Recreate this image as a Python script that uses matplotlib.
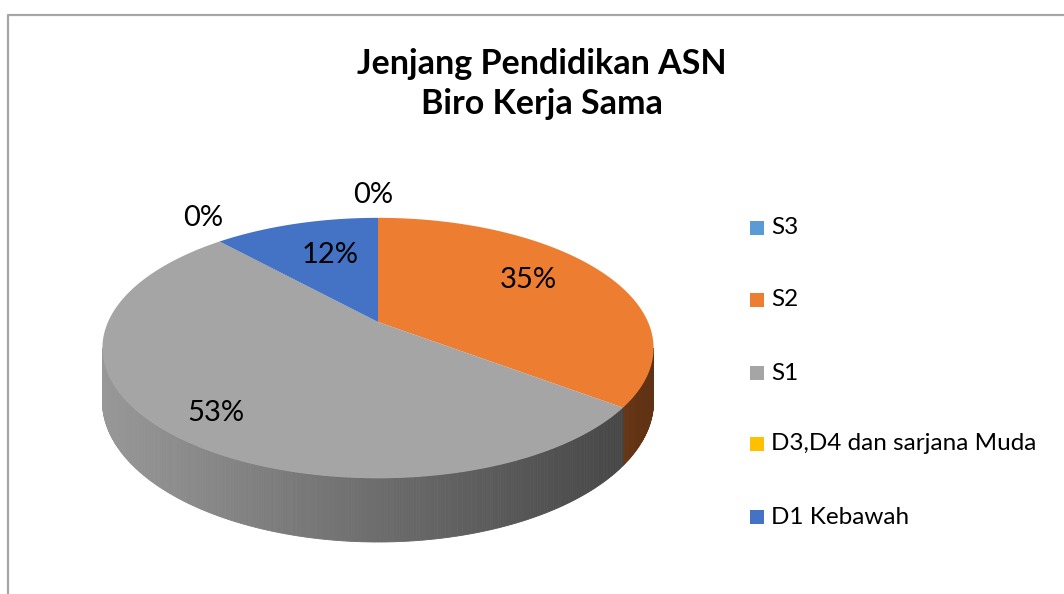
import numpy as np
import matplotlib
matplotlib.use("Agg")
import matplotlib.pyplot as plt
from matplotlib.patches import Polygon

# data (jumlah ASN per jenjang)
categories = ["S3", "S2", "S1", "D3,D4 dan sarjana Muda", "D1 Kebawah"]
values = [0, 6, 9, 0, 2]
colors = ["#5b9bd5", "#ed7d31", "#a5a5a5", "#ffc000", "#4472c4"]
title = "Jenjang Pendidikan ASN\nBiro Kerja Sama"

W, H = 1064, 594
plt.rcParams['font.family'] = ['Lato', 'DejaVu Sans']
fig = plt.figure(figsize=(W / 100, H / 100), dpi=100)
ax = fig.add_axes([0, 0, 1, 1])
ax.set_xlim(0, W)
ax.set_ylim(H, 0)
ax.axis('off')

# chart frame
ax.plot([7.5, 7.5, W + 5], [H + 5, 14.5, 14.5], color='#a6a6a6', lw=1.6)

# pie geometry in pixel space (perspective ellipse)
cx, cy = 378, 322
a, b, k = 270, 125, 0.2
depth = 51


def proj(theta, z=0.0):
    t = np.radians(theta)
    x, y = np.sin(t), np.cos(t)
    s = 1 / (1 + k * y)
    return cx + a * x * s, cy - b * y * s + z * s


def shade(hexcol, f):
    rgb = np.array(matplotlib.colors.to_rgb(hexcol))
    return tuple(np.clip(rgb * f, 0, 1))


vals = np.array(values, dtype=float)
frac = vals / vals.sum()
ends = np.cumsum(frac) * 360
starts = ends - frac * 360

# visible side: front part of the cylinder
side_lo = np.degrees(np.arccos(-k))
side_hi = 360 - side_lo

for st, en, col in zip(starts, ends, colors):
    lo, hi = max(st, side_lo), min(en, side_hi)
    if hi <= lo:
        continue
    th = np.linspace(lo, hi, max(int((hi - lo) * 2), 2))
    for t0, t1 in zip(th[:-1], th[1:]):
        x0, y0 = proj(t0)
        x1, y1 = proj(t1)
        x0b, y0b = proj(t0, depth)
        x1b, y1b = proj(t1, depth)
        um = (x0 + x1) / 2
        f = 0.92 - 0.52 * (um - (cx - a * 1.02)) / (2 * a * 1.02)
        ax.add_patch(Polygon([(x0, y0), (x1, y1), (x1b, y1b), (x0b, y0b)],
                             closed=True, fc=shade(col, f), ec=shade(col, f),
                             lw=0.6, zorder=2))

# top face
for st, en, col in zip(starts, ends, colors):
    if en - st <= 0:
        continue
    th = np.linspace(st, en, max(int((en - st) * 2), 2))
    pts = [(cx, cy)] + [proj(t) for t in th]
    ax.add_patch(Polygon(pts, closed=True, fc=col, ec='none', zorder=3))

# data labels
label_pos = {0: (373, 195), 1: (528, 280), 2: (216, 413), 3: (203, 218), 4: (330, 255)}
for i, v in enumerate(frac):
    x, y = label_pos[i]
    ax.text(x, y, f"{v * 100:.0f}%", ha='center', va='center', fontsize=21,
            color='black', zorder=5)

ax.text(542, 84, title, ha='center', va='center', fontsize=24.5,
        fontweight='bold', linespacing=1.3, zorder=5)

# legend
leg_y = [228, 300, 373, 444, 517]
for name, col, y in zip(categories, colors, leg_y):
    ax.add_patch(Polygon([(750, y - 7), (764, y - 7), (764, y + 7), (750, y + 7)],
                         closed=True, fc=col, ec='none'))
    ax.text(771, y, name, ha='left', va='center', fontsize=17.5, color='black')

fig.savefig("out.png", dpi=100, facecolor='white')
